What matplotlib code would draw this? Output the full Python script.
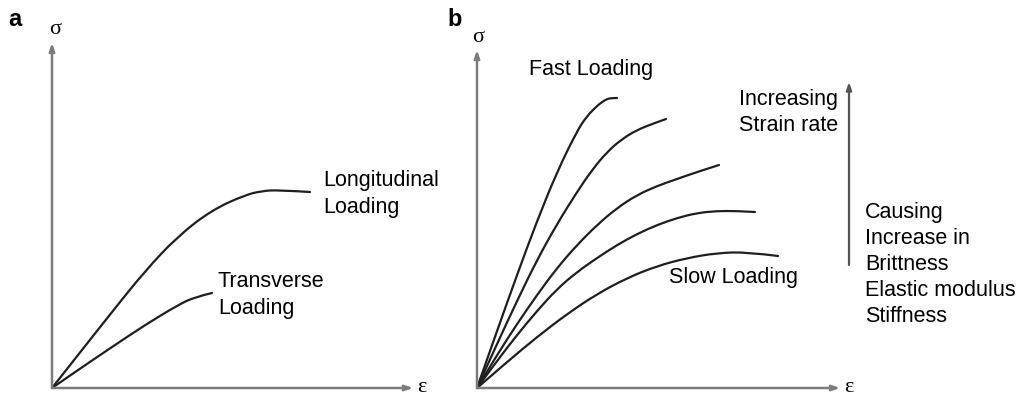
import matplotlib
matplotlib.use("Agg")
import matplotlib.pyplot as plt
from matplotlib.path import Path
from matplotlib.patches import PathPatch

# ---------------- data (strain, stress in schematic units) ----------------
# Panel a
long_strain = [0, 26, 60, 93, 126, 160, 193, 210, 226, 258]
long_stress = [0, 33, 76, 117, 152, 178, 193, 197, 198, 196]
trans_strain = [0, 26, 60, 93, 126, 143, 160]
trans_stress = [0, 18, 41, 63, 83, 91, 95]

# Panel b (fastest -> slowest loading)
c1_strain = [0, 20, 40, 60, 80, 100, 110, 120, 125, 130, 135, 140]
c1_stress = [0, 57, 113, 167, 216, 257, 272, 282, 286, 289, 290, 290]
c2_strain = [0, 20, 40, 60, 80, 100, 115, 130, 145, 160, 175, 189]
c2_stress = [0, 44, 87, 128, 164, 196, 218, 236, 249, 258, 264, 269]
c3_strain = [0, 20, 40, 60, 80, 100, 120, 140, 160, 180, 200, 220, 242]
c3_stress = [0, 33, 64, 93, 120, 143, 163, 180, 193, 202, 209, 216, 223]
c4_strain = [0, 20, 40, 60, 80, 100, 120, 140, 160, 180, 200, 220, 240, 260, 278]
c4_stress = [0, 27, 53, 77, 99, 116, 130, 143, 154, 163, 170, 175, 177, 177, 176]
c5_strain = [0, 30, 60, 90, 120, 150, 180, 210, 240, 270, 301]
c5_stress = [0, 26, 51, 74, 94, 110, 122, 130, 135, 136, 132]

panel_b_strain = [c1_strain, c2_strain, c3_strain, c4_strain, c5_strain]
panel_b_stress = [c1_stress, c2_stress, c3_stress, c4_stress, c5_stress]

labels_a = ["Longitudinal\nLoading", "Transverse\nLoading"]
label_fast = "Fast Loading"
label_slow = "Slow Loading"
label_rate = "Increasing\nStrain rate"
label_effect = "Causing\nIncrease in\nBrittness\nElastic modulus\nStiffness"

# ---------------- style ----------------
W, H = 1020, 398
DPI = 100
CURVE_C = "#1f1f1f"
AXIS_C = "#7c7c7c"
SANS = ["Liberation Sans", "DejaVu Sans"]
SERIF = ["Liberation Serif", "DejaVu Serif"]
FS = 15.5
LS = 1.32
CURVE_LW = 1.6

fig = plt.figure(figsize=(W / DPI, H / DPI), dpi=DPI)
fig.patch.set_facecolor("white")


def make_axes(x0, w, ox, oy):
    ax = fig.add_axes([x0 / W, 0, w / W, 1])
    ax.set_xlim(x0 - ox, x0 + w - ox)
    ax.set_ylim(oy - H, oy)
    ax.axis("off")
    return ax


def axis_arrow(ax, x1, y1):
    ax.annotate("", xy=(x1, y1), xytext=(0, 0),
                arrowprops=dict(arrowstyle="-|>,head_length=0.45,head_width=0.16",
                                color=AXIS_C, lw=1.8, shrinkA=0, shrinkB=0))


def smooth_curve(ax, xs, ys):
    """Draw a smooth curve using quadratic Bezier segments (points as controls)."""
    pts = list(zip(xs, ys))
    verts = [pts[0]]
    codes = [Path.MOVETO]
    for i in range(1, len(pts) - 1):
        mid = ((pts[i][0] + pts[i + 1][0]) / 2, (pts[i][1] + pts[i + 1][1]) / 2)
        if i == len(pts) - 2:
            mid = pts[i + 1]
        verts += [pts[i], mid]
        codes += [Path.CURVE3, Path.CURVE3]
    ax.add_patch(PathPatch(Path(verts, codes), facecolor="none", edgecolor=CURVE_C,
                           lw=CURVE_LW, capstyle="round", joinstyle="round"))


# ---------------- panel a ----------------
axa = make_axes(0, 440, 52, 388)
axis_arrow(axa, 0, 345)
axis_arrow(axa, 361, 0)
smooth_curve(axa, long_strain, long_stress)
smooth_curve(axa, trans_strain, trans_stress)
axa.text(3, 358, "σ", fontsize=16, family=SERIF, ha="center", va="center")
axa.text(370, 0, "ε", fontsize=16, family=SERIF, ha="center", va="center")
axa.text(271, 194, labels_a[0], fontsize=FS, family=SANS, ha="left", va="center",
         linespacing=LS)
axa.text(166, 93, labels_a[1], fontsize=FS, family=SANS, ha="left", va="center",
         linespacing=LS)

# ---------------- panel b ----------------
axb = make_axes(440, 580, 477, 388)
axis_arrow(axb, 0, 338)
axis_arrow(axb, 363, 0)
for xs, ys in zip(panel_b_strain, panel_b_stress):
    smooth_curve(axb, xs, ys)
axb.text(1, 350, "σ", fontsize=16, family=SERIF, ha="center", va="center")
axb.text(372, 0, "ε", fontsize=16, family=SERIF, ha="center", va="center")
axb.text(52, 319, label_fast, fontsize=FS, family=SANS, ha="left", va="center")
axb.text(192, 110, label_slow, fontsize=FS, family=SANS, ha="left", va="center")
axb.text(361, 275.5, label_rate, fontsize=FS, family=SANS, ha="right", va="center",
         multialignment="left", linespacing=LS)
axb.annotate("", xy=(372, 306), xytext=(372, 123),
             arrowprops=dict(arrowstyle="-|>,head_length=0.45,head_width=0.16",
                             color="#555555", lw=1.6, shrinkA=0, shrinkB=0))
axb.text(388, 123.5, label_effect, fontsize=FS, family=SANS, ha="left", va="center",
         multialignment="left", linespacing=LS)

# panel letters
fig.text(15 / W, 1 - 20 / H, "a", fontsize=17, fontweight="bold", family=SANS,
         ha="center", va="center")
fig.text(455 / W, 1 - 20 / H, "b", fontsize=17, fontweight="bold", family=SANS,
         ha="center", va="center")

fig.savefig("out.png", dpi=DPI, facecolor="white")
